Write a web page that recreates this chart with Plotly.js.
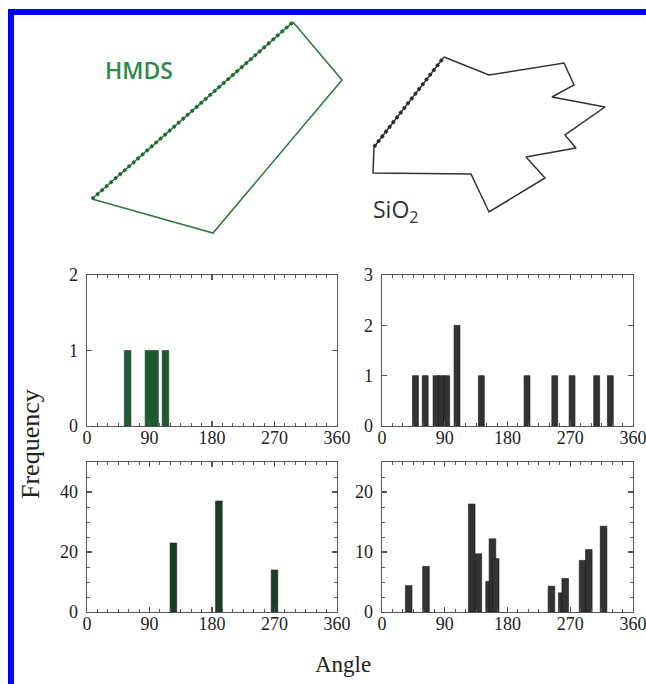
<!DOCTYPE html>
<html>
<head>
<meta charset="utf-8">
<script src="https://cdn.plot.ly/plotly-3.0.1.min.js"></script>
<style>html,body{margin:0;padding:0;background:#fff;}#chart{width:646px;height:684px;}</style>
</head>
<body>
<div id="chart"></div>
<script>
// ---- Data ----
// Polygon outlines (drawing coordinates of the sketch panel)
const hmdsPolyX = [293, 342, 213, 92, 293];
const hmdsPolyY = [22, 80, 233, 199, 22];
const hmdsBeadX = [92, 293];
const hmdsBeadY = [199, 22];
const sioPolyX = [444, 489, 564, 574, 552, 605, 565, 576, 526, 545, 489, 471, 373, 374, 444];
const sioPolyY = [57, 75, 63, 85, 97, 107, 135, 148, 157, 178, 212, 174, 173, 147, 57];
const sioBeadX = [374, 444];
const sioBeadY = [147, 57];

// Histogram: HMDS corner angles (top-left)
const hmdsCornerAngle = [58.5, 88.5, 98, 113];
const hmdsCornerFreq  = [1, 1, 1, 1];
// Histogram: SiO2 corner angles (top-right)
const sioCornerAngle = [48, 62, 77.5, 85, 92.8, 107.6, 142.5, 208, 247.8, 272.6, 307.9, 327.5];
const sioCornerFreq  = [1, 1, 1, 1, 1, 2, 1, 1, 1, 1, 1, 1];
// Histogram: HMDS (bottom-left)
const hmdsAngle = [124.4, 189.9, 270];
const hmdsFreq  = [23, 37, 14];
// Histogram: SiO2 (bottom-right)
const sioAngle = [38.3, 63.1, 128.7, 138.2, 153.6, 158.4, 163.1, 243, 257.8, 262.8, 287.7, 296.6, 317.8];
const sioFreq  = [4.4, 7.6, 18, 9.7, 5.1, 12.2, 8.9, 4.3, 3.2, 5.6, 8.6, 10.4, 14.3];

const xTickVals = [0, 90, 180, 270, 360];

// ---- Styles ----
const W = 646, H = 684;
const serif = "Liberation Serif, Times New Roman, serif";
const green = "#2d7a3e";
const axisCol = "#555555";

function px(x){ return x / W; }
function py(y){ return 1 - y / H; }

const traces = [
  {type:'scatter', mode:'lines', x:hmdsPolyX, y:hmdsPolyY, xaxis:'x5', yaxis:'y5',
   line:{color:green, width:1.6}, hoverinfo:'skip'},
  {type:'scatter', mode:'lines', x:hmdsBeadX, y:hmdsBeadY, xaxis:'x5', yaxis:'y5',
   line:{color:'#1f6a30', width:3.6, dash:'3px,3px'}, hoverinfo:'skip'},
  {type:'scatter', mode:'lines', x:sioPolyX, y:sioPolyY, xaxis:'x5', yaxis:'y5',
   line:{color:'#333333', width:1.5}, hoverinfo:'skip'},
  {type:'scatter', mode:'lines', x:sioBeadX, y:sioBeadY, xaxis:'x5', yaxis:'y5',
   line:{color:'#2a2a2a', width:3.6, dash:'3px,3px'}, hoverinfo:'skip'},
  {type:'bar', x:hmdsCornerAngle, y:hmdsCornerFreq, width:9.5, xaxis:'x', yaxis:'y',
   marker:{color:'#1f5a33', line:{color:'#143d22', width:0.6}}},
  {type:'bar', x:sioCornerAngle, y:sioCornerFreq, width:8.5, xaxis:'x2', yaxis:'y2',
   marker:{color:'#333333', line:{color:'#1a1a1a', width:0.6}}},
  {type:'bar', x:hmdsAngle, y:hmdsFreq, width:9.5, xaxis:'x3', yaxis:'y3',
   marker:{color:'#1e3d26', line:{color:'#122616', width:0.6}}},
  {type:'bar', x:sioAngle, y:sioFreq, width:9.5, xaxis:'x4', yaxis:'y4',
   marker:{color:'#333333', line:{color:'#1a1a1a', width:0.6}}}
];

function xAx(domain, anchor){
  return {domain:domain, anchor:anchor, range:[0,360], tickvals:xTickVals,
    ticks:'inside', ticklen:5, tickwidth:1.2, tickcolor:axisCol,
    minor:{dtick:15, ticks:'inside', ticklen:3, tickwidth:1, tickcolor:axisCol},
    showline:true, linecolor:axisCol, linewidth:1.3, mirror:'allticks',
    showgrid:false, zeroline:false, fixedrange:true, ticklabeloverflow:'allow',
    tickfont:{family:serif, size:18, color:'#222'}, ticklabelstandoff:-5};
}
function yAx(domain, anchor, range, dtick, minor){
  const a = {domain:domain, anchor:anchor, range:range, dtick:dtick, tick0:0,
    ticks:'inside', ticklen:5, tickwidth:1.2, tickcolor:axisCol,
    showline:true, linecolor:axisCol, linewidth:1.3, mirror:'allticks',
    showgrid:false, zeroline:false, fixedrange:true, ticklabeloverflow:'allow',
    tickfont:{family:serif, size:18, color:'#222'}, ticklabelstandoff:4};
  if (minor) a.minor = {dtick:minor, ticks:'inside', ticklen:3, tickwidth:1, tickcolor:axisCol};
  return a;
}

const dxL = [px(87), px(337)];
const dxR = [px(382), px(633)];
const dyT = [py(426), py(275)];
const dyB = [py(612), py(462)];

const layout = {
  width:W, height:H, margin:{l:0, r:0, t:0, b:0},
  paper_bgcolor:'#ffffff', plot_bgcolor:'rgba(0,0,0,0)',
  showlegend:false, barmode:'overlay', hovermode:false,
  xaxis: xAx(dxL, 'y'),
  yaxis: yAx(dyT, 'x', [0,2], 1, null),
  xaxis2: xAx(dxR, 'y2'),
  yaxis2: yAx(dyT, 'x2', [0,3], 1, null),
  xaxis3: xAx(dxL, 'y3'),
  yaxis3: yAx(dyB, 'x3', [0,50], 20, 5),
  xaxis4: xAx(dxR, 'y4'),
  yaxis4: yAx(dyB, 'x4', [0,25], 10, 2.5),
  xaxis5: {domain:[0,1], anchor:'y5', range:[0,W], visible:false, fixedrange:true},
  yaxis5: {domain:[0,1], anchor:'x5', range:[H,0], visible:false, fixedrange:true},
  shapes: [
    {type:'rect', xref:'paper', yref:'paper', x0:px(11), x1:1.2, y0:-0.2, y1:py(12),
     line:{color:'#0000ff', width:6}, fillcolor:'rgba(0,0,0,0)', layer:'above'}
  ],
  annotations: [
    {text:'HMDS', xref:'paper', yref:'paper', x:px(139), y:py(70), xanchor:'center', yanchor:'middle',
     showarrow:false, font:{family:'Open Sans, DejaVu Sans, sans-serif', size:23, color:'#2e8a48', weight:600}},
    {text:'SiO<sub>2</sub>', xref:'paper', yref:'paper', x:px(396), y:py(210), xanchor:'center', yanchor:'middle',
     showarrow:false, font:{family:'Open Sans, DejaVu Sans, sans-serif', size:23, color:'#333333'}},
    {text:'Frequency', xref:'paper', yref:'paper', x:px(30), y:py(444), xanchor:'center', yanchor:'middle',
     showarrow:false, textangle:-90, font:{family:serif, size:26, color:'#222'}},
    {text:'Angle', xref:'paper', yref:'paper', x:px(343), y:py(664), xanchor:'center', yanchor:'middle',
     showarrow:false, font:{family:serif, size:23, color:'#222'}}
  ]
};

Plotly.newPlot('chart', traces, layout, {staticPlot:true, displayModeBar:false});
</script>
</body>
</html>
